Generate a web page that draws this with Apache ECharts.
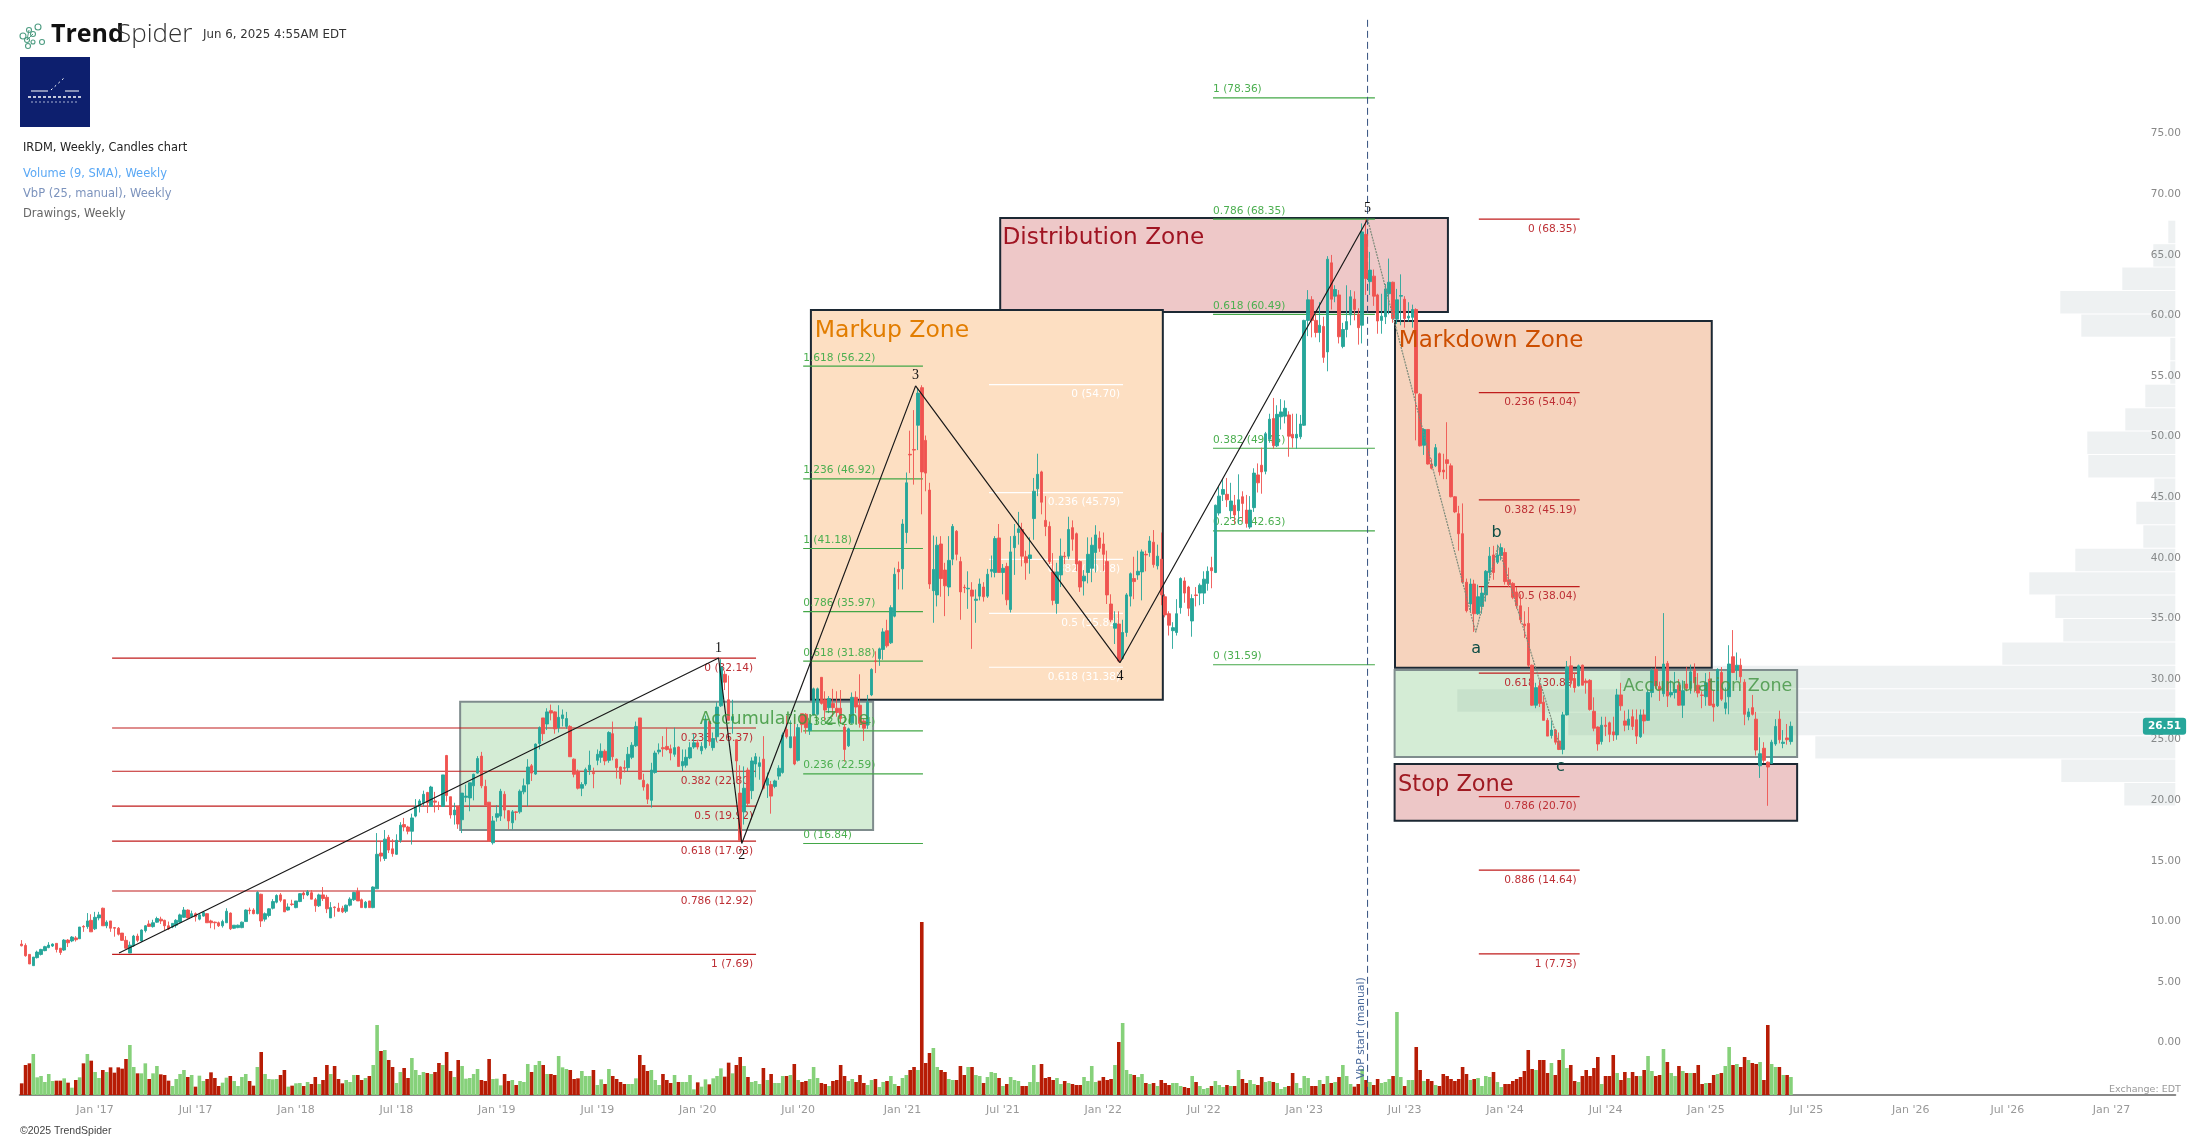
<!DOCTYPE html>
<html><head><meta charset="utf-8">
<style>html,body{margin:0;padding:0;background:#fff}#c{width:2207px;height:1141px}</style>
<script src="https://cdn.jsdelivr.net/npm/echarts@6/dist/echarts.min.js"></script>
</head><body><div id="c"></div>
<script>
// OHLC rows: [open, close, low, high], weekly
const ohlc2016 = [
[8.54,8.40,8.35,8.87],[8.43,7.58,7.50,8.60],[7.69,6.90,6.90,7.69],[6.76,7.47,6.76,7.47],[7.42,7.88,7.35,8.00],[7.69,8.10,7.60,8.15],[8.00,8.33,7.95,8.40],[8.25,8.46,8.20,8.70],[8.38,8.54,8.30,8.60],[8.60,8.10,7.85,8.60],
[8.20,7.85,7.65,8.20],[8.05,8.87,7.98,8.95],[8.87,8.65,8.30,8.95],[8.80,9.12,8.70,9.20],[9.05,8.90,8.75,9.20],[8.98,9.95,8.98,9.95],[10.00,9.95,9.55,10.10],[9.98,10.45,9.80,11.10],[10.50,9.55,9.55,11.00],[9.80,10.75,9.70,11.20],
[10.70,10.95,10.50,11.20],[11.50,10.05,10.05,11.55],[10.05,10.35,9.85,10.50],[10.45,9.85,9.55,10.45],[9.90,9.85,9.15,9.95],[9.85,9.35,9.25,9.95],[9.45,8.85,8.80,9.45],[8.85,8.20,8.15,9.20],[7.80,8.45,7.80,8.75],[8.40,9.20,8.30,9.30],
[9.20,8.85,8.70,9.40],[8.80,9.70,8.70,9.75],[9.65,10.05,9.50,10.10],[10.20,10.00,9.95,10.50],[9.98,10.30,9.90,10.55],[10.35,10.65,10.30,10.80],[10.60,10.45,10.20,10.80],[10.50,10.05,9.70,10.55],[10.05,9.80,9.70,10.40],[9.95,10.25,9.85,10.25],
[10.10,10.50,9.90,10.60],[10.35,10.95,10.30,11.05],[10.75,11.35,10.70,11.60],[11.35,10.70,10.65,11.40],[10.80,11.05,10.70,11.30],[11.05,10.80,10.40,11.15],[10.60,10.95,10.50,11.05],[10.85,11.15,10.80,11.25],[11.05,10.30,10.30,11.10],[10.45,10.30,9.85,10.55],
[10.35,10.30,9.75,10.40],[10.30,10.05,9.95,10.40],[10.05,10.40,9.90,10.55],[10.30,11.25,10.30,11.50],[11.10,9.80,9.70,11.15],[9.85,10.10,9.80,10.10],[9.90,10.10,9.85,10.15],[9.90,10.35,9.85,10.40],[10.40,11.35,10.40,11.40],[11.35,11.30,11.00,11.55],
[11.35,11.05,11.00,11.50],[11.05,12.80,11.00,12.90],[12.65,10.45,9.95,12.70],[10.60,11.05,10.40,11.15],[10.90,11.45,10.75,11.50],[11.50,12.05,11.40,12.25],[12.00,12.55,11.90,12.65],[12.60,12.15,12.00,12.75],[12.20,11.20,11.20,12.20],[11.35,11.60,11.30,11.90],
[11.85,11.80,11.70,12.20],[11.55,12.10,11.50,12.10],[12.05,12.70,12.00,12.75],[12.75,12.60,12.25,12.90],[12.60,12.85,12.50,13.00],[12.78,12.25,12.25,13.00],[12.20,11.70,11.20,12.35],[11.70,12.60,11.60,12.70],[12.60,12.30,12.10,13.25],[12.40,11.45,11.10,12.60],
[10.70,11.55,10.70,12.00],[11.60,11.55,10.80,11.65],[11.50,11.25,11.20,11.95],[11.50,11.20,11.10,11.70],[11.25,11.75,11.10,11.80],[11.75,12.25,11.65,12.40],[12.20,12.80,12.10,12.85],[12.90,12.10,12.10,13.20],[12.20,11.55,11.55,12.30],[11.55,12.00,11.50,12.10],
[12.10,11.55,11.55,12.10],[11.55,13.25,11.50,13.30],[13.10,15.95,13.10,17.70],[16.05,15.80,15.35,17.00],[15.60,17.20,15.40,17.95],[17.35,16.30,16.05,17.55],[16.40,16.00,15.75,17.20],[15.95,17.10,15.90,17.60],[17.10,18.35,16.90,18.60],[18.40,18.20,17.85,18.95],
[18.20,17.85,17.60,18.30],[17.85,18.95,16.75,19.30],[19.10,19.90,19.00,20.50],[19.90,20.35,19.40,20.50],[20.20,20.90,19.90,21.20],[21.05,20.20,19.35,21.10],[19.90,21.50,19.85,21.60],[20.35,20.25,19.40,21.10],[19.95,19.90,19.60,20.30],[19.90,22.50,19.85,22.50],
[24.10,20.80,20.30,24.15],[20.70,19.20,18.90,20.70],[19.20,19.60,18.40,20.20],[19.90,18.45,18.05,19.90],[18.80,21.00,17.70,21.00],[20.65,20.75,20.25,21.70],[20.60,21.85,19.50,21.85],[21.60,22.55,20.40,22.60],[22.65,23.85,22.60,24.05],[24.05,21.60,21.40,24.40],
[21.55,20.00,20.00,22.10],[20.25,17.05,17.00,20.25],[16.90,18.70,16.75,19.10],[19.00,19.30,18.65,20.00],[19.10,21.15,18.70,21.35],[20.90,19.60,18.90,21.15],[19.55,18.70,18.00,19.60],[18.55,19.45,18.00,19.60],[19.45,19.40,18.75,19.50],[19.45,21.15,19.30,21.30],
[21.10,21.60,20.90,22.20],[21.75,23.15,19.90,23.80],[23.25,22.65,22.00,23.40]];
const ohlc2019 = [
[22.57,25.04,22.50,25.10],[25.10,26.40,24.60,26.50],[27.20,25.90,25.30,27.20],[26.70,27.70,26.20,28.00],[27.80,27.60,27.00,28.30],[27.70,26.30,25.90,27.75],[26.40,27.25,26.00,28.25],[27.15,27.45,26.50,27.90],[26.50,27.15,26.30,27.70],[26.50,24.00,24.00,26.60],
[23.80,22.55,22.30,23.85],[22.80,21.40,21.30,22.95],[21.40,21.70,20.75,21.90],[21.75,22.95,21.60,23.10],[22.90,23.30,22.50,24.50],[22.70,22.60,21.40,23.10],[23.70,24.20,23.30,24.60],[23.95,24.45,23.50,25.10],[24.45,23.65,23.30,24.60],[23.70,26.00,23.50,26.10],
[25.90,24.00,23.70,26.90],[23.80,23.10,22.20,23.85],[23.15,22.20,21.70,23.20],[23.10,23.05,22.70,23.70],[23.10,24.20,22.80,24.80],[23.95,24.95,23.80,25.20],[24.90,26.50,24.80,26.90],[27.20,22.15,22.10,27.20],[22.05,21.50,21.20,22.60],[21.70,20.50,20.10,21.80],
[20.40,22.90,19.80,23.50],[22.70,24.30,22.60,24.50],[24.40,24.55,24.20,25.10],[24.75,24.65,24.00,25.70],[24.85,24.60,24.50,26.40],[24.65,24.30,23.70,25.00],[24.20,24.75,24.00,26.40],[24.80,23.20,23.20,24.85],[23.25,23.60,22.80,24.60],[23.30,23.95,23.10,24.60],
[23.90,24.75,23.80,25.20],[24.80,25.15,24.65,25.90],[25.15,24.80,24.60,25.40],[24.50,24.85,24.20,25.20],[24.75,27.00,24.60,27.40],[26.90,25.25,24.90,27.00],[24.75,25.50,24.50,26.00],[25.65,28.10,25.30,28.50],[28.20,31.40,28.10,32.05],[30.80,30.15,29.50,31.10],
[28.70,27.00,27.00,30.70],[27.00,27.30,25.90,28.70],[25.40,23.65,21.90,25.40],[21.00,17.10,17.10,23.30],[19.45,21.40,18.40,23.20],[22.90,20.15,19.90,23.10],[21.20,23.65,20.50,23.95],[23.40,24.00,22.30,24.30],[23.20,23.50,22.10,24.00],[23.80,21.40,21.30,25.70],
[21.65,22.20,20.60,22.70],[21.70,20.75,19.30,22.00],[21.55,22.00,21.40,22.10],[22.40,23.05,22.10,23.30],[22.70,25.80,22.60,26.00],[26.25,25.65,25.50,27.40],[24.75,25.65,24.70,27.00],[25.65,23.40,23.30,27.30],[23.70,26.40,23.60,26.70],[27.55,26.65,26.00,27.55],
[27.50,26.40,25.90,27.60],[26.15,26.75,25.80,27.00],[27.45,29.60,27.40,29.70],[27.50,29.60,27.40,29.70],[30.55,28.40,28.30,30.55],[28.70,27.85,27.00,29.40],[28.05,28.80,27.60,29.00],[28.40,28.05,27.30,29.60],[28.00,27.65,27.30,29.40],[28.00,27.15,26.70,29.50],
[26.45,24.60,23.60,26.70],[24.90,26.30,24.80,26.40],[26.80,28.90,26.70,29.30],[28.90,28.10,27.60,29.40],[28.25,26.75,26.40,30.80],[26.95,26.35,25.30,27.10],[26.60,28.50,26.30,29.10],[29.10,31.20,29.00,31.30],[31.90,31.85,30.90,32.70],[32.10,32.90,31.50,33.00],
[32.85,34.30,32.00,34.60],[34.40,33.15,33.00,35.30],[33.40,36.30,33.30,36.50],[35.60,39.05,35.50,39.60],[39.45,39.25,37.80,40.10],[39.50,43.20,37.80,43.60],[42.50,46.60,41.60,47.45],[48.95,48.90,47.40,50.90],[49.35,49.30,46.45,52.60],[51.35,54.00,49.30,54.40],
[54.45,47.50,44.00,54.65],[50.10,47.40,45.90,50.50],[46.00,38.25,37.85,46.60],[37.70,39.45,35.05,42.25],[37.35,41.45,36.40,42.15],[41.55,38.70,37.20,42.20],[39.40,38.10,35.60,40.00],[38.00,40.20,37.25,42.20],[40.30,43.00,39.80,43.20],[42.60,40.70,40.20,42.70],
[40.10,37.60,35.30,40.50],[37.98,37.95,37.50,38.20],[37.85,37.90,36.20,39.30],[37.75,37.25,32.90,38.40],[36.90,37.00,35.05,37.80],[37.25,38.25,36.90,38.70],[38.00,37.20,36.80,38.40],[37.25,39.05,37.10,39.50],[39.30,39.45,38.80,40.60],[39.20,42.00,38.80,42.20],
[42.05,39.20,39.20,43.20],[39.20,39.55,37.40,39.90],[39.70,36.95,36.50,40.00],[36.15,40.90,35.90,42.20],[41.25,42.20,39.00,43.20],[42.50,42.80,41.50,44.20],[42.75,40.55,39.70,43.30],[40.50,40.00,38.60,41.00],[40.35,40.65,39.10,42.10],[43.65,45.90,41.90,47.00],
[46.10,47.30,45.50,49.00],[47.50,45.00,44.00,47.60],[43.50,43.00,42.20,45.50],[43.00,40.10,39.90,43.40]];
const ohlc2022 = [
[39.25,36.90,36.50,40.80],[36.65,39.25,35.80,40.00],[39.00,40.55,38.00,42.00],[40.55,40.50,39.90,40.90],[40.55,42.75,40.30,43.80],[42.90,41.95,41.00,43.50],[42.40,39.90,39.30,42.50],[40.10,38.00,37.60,40.20],[38.50,38.90,37.30,39.40],[39.20,40.70,38.30,42.10],
[39.55,41.45,38.40,42.10],[40.85,42.30,39.20,43.10],[42.05,41.20,40.90,42.60],[41.55,40.70,39.30,42.50],[40.10,37.35,36.60,41.00],[36.60,35.30,35.10,37.40],[34.60,35.00,33.30,36.00],[34.95,31.90,31.80,36.00],[32.10,34.25,32.00,35.30],[34.25,37.35,33.90,37.50],
[37.25,39.10,36.40,39.20],[38.70,38.45,37.00,40.50],[39.00,39.30,38.60,41.00],[39.25,40.90,36.90,41.10],[40.70,40.65,39.30,41.00],[40.85,41.80,40.50,42.20],[41.70,39.85,39.60,42.70],[39.75,40.55,39.45,41.50],[40.30,37.35,36.50,42.50],[37.20,35.70,35.50,37.40],
[35.80,34.85,34.00,36.00],[34.40,34.65,32.90,35.10],[34.25,35.80,34.00,37.00],[36.30,38.70,35.80,38.80],[38.50,37.50,36.70,38.80],[38.00,36.25,35.60,38.10],[35.20,37.05,33.90,37.40],[37.35,37.30,36.40,38.00],[37.50,38.15,36.50,38.30],[37.50,38.65,36.60,39.30],
[38.30,39.30,37.70,39.70],[39.60,39.35,37.90,40.50],[39.20,44.75,39.15,44.80],[44.10,45.50,43.90,46.30],[45.65,46.05,45.10,46.90],[45.65,45.20,44.60,47.00],[44.30,45.10,43.60,46.60],[44.75,43.95,43.20,45.60],[44.30,45.20,43.20,47.30],[45.45,44.90,43.40,45.90],
[44.35,43.25,42.90,45.60],[42.95,44.35,42.80,45.50],[44.55,47.40,44.20,47.80],[47.25,46.60,45.80,48.20],[48.05,47.50,45.70,49.50],[47.55,50.65,47.30,50.80],[50.20,51.85,49.90,52.30],[51.90,49.65,49.40,53.60],[49.65,52.25,49.55,53.00],[52.05,52.45,51.00,53.50],
[52.10,52.75,51.50,53.40],[52.20,50.45,48.75,52.50],[50.60,50.30,49.50,52.30],[50.30,50.60,49.40,52.30],[50.40,51.45,50.20,52.20],[51.35,60.00,51.30,60.05],[60.00,61.70,58.70,62.50],[61.70,60.00,58.60,62.00],[60.00,59.00,58.60,60.50],[59.00,59.60,58.20,61.50],
[59.50,56.95,56.50,60.30],[57.40,65.05,55.80,65.30],[64.75,61.75,60.90,65.40],[62.00,62.55,61.50,62.90],[62.10,58.65,58.10,62.50],[57.85,59.25,57.70,59.80],[59.25,59.90,58.60,62.90],[60.45,61.95,59.60,62.50],[61.75,60.90,60.00,62.40],[60.50,59.40,58.00,61.00],
[59.60,67.30,58.10,68.00]];
const ohlc2023 = [
[67.10,63.45,62.10,68.35],[63.20,64.15,62.10,65.65],[63.65,62.00,61.20,64.20],[62.10,59.95,58.90,62.20],[60.00,60.35,58.90,62.20],[60.30,62.60,59.70,63.00],[62.20,63.15,60.50,65.10],[63.15,60.15,59.80,63.20],[60.10,61.70,59.70,62.60],[62.00,62.05,59.60,63.80],
[61.75,60.15,59.40,62.00],[60.20,60.35,59.90,61.50],[60.25,60.90,59.40,61.30],[60.90,54.00,50.10,61.00],[53.90,49.65,49.60,54.00],[49.70,51.00,48.90,51.10],[51.00,48.15,48.10,51.00],[48.15,47.80,47.70,48.60],[48.00,49.50,47.90,49.80],[49.00,47.50,47.20,49.10],
[47.65,47.50,46.90,49.00],[48.50,48.20,46.90,51.60],[48.00,45.45,45.40,48.20],[45.45,44.20,44.10,45.50],[44.05,42.40,41.00,44.70],[42.40,38.40,38.30,44.90],[38.40,36.05,35.90,38.70],[36.60,38.25,36.00,38.70],[38.25,35.80,34.30,38.60],[35.80,37.20,35.70,38.20],
[36.40,37.50,35.80,38.00],[37.35,39.30,36.80,39.40],[39.20,40.55,38.70,41.30],[40.65,39.20,38.60,41.40],[40.05,40.65,39.90,41.50],[40.60,41.25,40.20,41.60],[40.85,38.45,38.20,41.20],[38.60,38.20,38.00,39.60],[38.30,37.15,37.00,38.40],[37.60,36.45,36.20,38.00],
[36.45,35.30,35.00,37.40],[34.95,34.80,33.80,36.00],[35.00,31.55,31.40,36.35],[31.55,28.25,28.20,31.60],[28.25,29.70,28.00,30.10],[29.85,28.40,28.10,30.30],[28.50,27.00,27.00,29.00],[27.00,25.70,25.70,27.20],[25.75,26.20,25.50,27.00],[26.20,25.20,25.00,26.30],
[25.30,24.60,24.55,26.00],[24.60,27.45,24.20,27.70],[27.45,31.40,27.40,31.90]];
const ohlc2024 = [
[31.50,30.30,29.70,32.30],[30.45,29.70,29.30,30.90],[29.85,31.50,29.80,31.60],[31.55,29.90,29.90,31.60],[30.25,30.10,29.20,30.45],[30.30,27.90,27.80,30.40],[27.75,26.35,26.10,28.90],[26.45,25.05,24.50,26.50],[25.25,26.60,25.00,27.30],[26.60,26.50,25.70,27.30],
[26.80,25.85,25.20,26.90],[26.05,25.80,25.30,27.30],[25.80,29.10,25.40,29.60],[29.10,28.20,27.80,30.10],[26.95,26.60,26.10,27.80],[26.60,27.10,26.20,27.90],[27.30,26.50,26.20,27.90],[27.05,25.70,25.05,27.90],[25.65,27.45,25.55,27.90],[27.45,26.95,25.90,27.90],
[27.00,29.30,26.95,29.50],[29.30,31.10,28.90,31.30],[31.20,29.85,29.60,32.30],[29.80,29.50,28.60,30.20],[29.20,31.65,28.95,35.85],[31.70,29.00,28.10,31.90],[29.10,29.30,28.90,30.30],[29.30,29.55,28.80,31.00],[29.90,28.25,28.20,30.40],[28.25,29.45,27.20,30.30],
[30.00,29.65,29.40,31.40],[29.65,31.00,29.20,31.60],[31.20,30.10,29.30,31.70],[29.90,29.25,28.90,30.90],[29.10,29.05,28.00,29.40],[28.95,30.10,28.20,30.90],[30.40,28.25,28.20,31.00],[28.35,28.10,26.90,29.50],[28.20,31.20,28.10,31.30],[30.95,28.75,28.60,31.40],
[28.00,28.45,27.50,29.70],[28.95,31.65,27.50,33.20],[32.25,30.95,30.90,34.45],[31.15,31.55,30.30,32.60],[31.55,30.60,30.10,32.10],[30.15,27.50,26.60,30.40],[27.30,27.70,27.00,28.00],[28.05,27.50,27.40,29.10],[27.10,24.55,24.10,27.70],[23.25,24.25,22.25,25.60],
[24.70,23.70,23.50,25.20],[23.55,23.15,19.95,23.60],[23.45,25.20,23.40,25.40],[25.05,26.50,24.90,27.10],[27.10,25.40,25.10,27.80],[25.10,25.20,24.70,26.20],[25.55,25.40,25.00,26.70],[25.25,26.51,25.00,26.90]];
const candles = [...ohlc2016, ...ohlc2019, ...ohlc2022, ...ohlc2023, ...ohlc2024];

// weekly volume, relative units
const volume = [
35,90,95,123,53,57,39,63,42,43, 43,50,37,22,45,53,95,123,103,69, 51,75,69,83,67,83,79,108,150,84, 65,65,95,48,65,87,62,60,43,27,
48,63,75,54,60,25,58,42,48,68, 51,27,37,52,57,42,27,54,63,42, 28,84,129,63,48,47,48,60,75,25, 28,35,36,27,39,33,54,33,45,90,
63,87,48,35,45,39,60,60,45,51, 57,90,210,132,135,105,84,36,69,81, 51,111,75,60,69,66,63,69,96,90, 129,72,54,105,87,49,51,63,78,45,
42,108,48,49,29,63,42,45,30,42, 39,93,69,90,102,90,63,63,60,117, 83,78,75,48,50,72,57,57,75,30, 47,33,78,57,48,39,33,33,33,50,
120,90,72,75,45,30,63,45,36,60, 39,39,39,60,17,38,25,47,32,50, 57,80,55,97,65,90,114,87,54,39, 42,33,81,45,63,36,36,57,57,60,
93,45,39,42,48,84,51,36,33,27, 42,45,90,57,42,48,39,60,36,30, 45,48,24,39,42,57,33,27,51,60, 75,84,75,519,96,126,141,84,75,69,
48,45,45,87,60,84,84,60,57,36, 54,69,66,51,27,33,54,45,42,27, 27,39,90,39,93,51,54,45,51,33, 42,36,33,30,30,54,42,87,39,
43,54,45,48,90,159,216,75,63,60, 54,63,36,33,36,27,45,36,30,36, 36,27,24,21,57,39,27,18,21,27, 42,30,24,30,27,27,75,48,36,45,
33,30,54,39,42,39,36,18,24,27, 66,36,21,57,51,27,27,45,33,57, 36,39,54,90,57,33,25,33,78,45, 39,30,48,36,39,48,57,249,54,27,
45,45,144,75,42,48,42,30,27,63, 57,48,42,48,84,63,45,48,51,27, 57,54,69,39,24,33,33,42,48,54, 72,135,78,75,105,105,66,96,60,105,
138,81,90,42,39,57,75,57,81,114, 33,57,57,120,66,45,69,51,69,57,
57,75,117,72,57,60,138,99,66,57, 87,72,66,66,66,90,33,36,36,60, 63,66,87,144,90,93,84,114,105,96, 93,99,45,210,93,84,84,60,60,54];

const tickWeeks  = [19,45,71,97,123,149,175,201,228,254,280,306,332,358,384,410,436,462,489,514,541];
const tickLabels = ["Jan '17","Jul '17","Jan '18","Jul '18","Jan '19","Jul '19","Jan '20","Jul '20","Jan '21","Jul '21","Jan '22","Jul '22","Jan '23","Jul '23","Jan '24","Jul '24","Jan '25","Jul '25","Jan '26","Jul '26","Jan '27"];
const totalWeeks = 558;
const priceTicks = {min:-5, max:85, step:5};

// Volume by price: relative volume per bin, bottom bin first (25 bins)
const vbpVolume = [51,114,360,607,718,555,173,112,120,146,100,32,39,21,87,88,50,30,5,5,94,115,53,22,7];
const vbpLow = 19.94, vbpStep = 1.933;

// zones: [name, weekFrom, weekTo, priceLow, priceHigh]
const zones = [
["accum",113.5,220.4,17.95,28.54],
["distribution",253.3,369.2,60.69,68.45],
["markup",204.3,295.4,28.7,60.86],
["markdown",355.5,437.5,31.34,59.95],
["accum",355.4,459.6,23.98,31.15],
["stop",355.4,459.6,18.72,23.4]];
const zoneStyle = {
 accum:{fill:'rgba(76,175,80,0.24)',stroke:'#7f8c8d'},
 distribution:{fill:'#eec8c8',stroke:'#1c2833'},
 markup:{fill:'#fddfc2',stroke:'#1c2833'},
 markdown:{fill:'#f6d3bd',stroke:'#1c2833'},
 stop:{fill:'#edc7c7',stroke:'#1c2833'}};
// zone titles: [text, week (left edge), price, colour, font size]
const zoneTitles = [
["Accumulation Zone",175.5,27.08,'rgba(60,150,60,0.85)',17.5],
["Distribution Zone",253.9,66.78,'#a01422',23.2],
["Markup Zone",205.3,59.15,'#e27d00',23.5],
["Markdown Zone",356.5,58.28,'#cc4e00',23],
["Accumulation Zone",414.5,29.78,'rgba(70,150,70,0.85)',17.5],
["Stop Zone",356.3,21.68,'#a01a22',22.5]];

// Fibonacci sets: levels are [ratio, price]
const fibRed1 = [[0,32.14],[0.236,26.37],[0.382,22.80],[0.5,19.92],[0.618,17.03],[0.786,12.92],[1,7.69]];
const fibGreen1 = [[1.618,56.22],[1.236,46.92],[1,41.18],[0.786,35.97],[0.618,31.88],[0.382,26.14],[0.236,22.59],[0,16.84]];
const fibWhite = [[0,54.70],[0.236,45.79],[0.382,40.28],[0.5,35.82],[0.618,31.38]];
const fibGreen2 = [[1,78.36],[0.786,68.35],[0.618,60.49],[0.382,49.45],[0.236,42.63],[0,31.59]];
const fibRed2 = [[0,68.35],[0.236,54.04],[0.382,45.19],[0.5,38.04],[0.618,30.89],[0.786,20.70],[0.886,14.64],[1,7.73]];
const fibSets = [
 {levels:fibRed1,from:23.4,to:190.1,line:'#c01c1c',text:'#bd2f35',side:'below'},
 {levels:fibGreen1,from:202.3,to:233.3,line:'#43a747',text:'#4caf50',side:'above'},
 {levels:fibWhite,from:250.4,to:285.1,line:'#ffffff',text:'#ffffff',side:'below'},
 {levels:fibGreen2,from:308.4,to:350.3,line:'#43a747',text:'#4caf50',side:'above'},
 {levels:fibRed2,from:377.2,to:403.3,line:'#c01c1c',text:'#bd2f35',side:'below'}];

// Elliott wave pivots [week, price]
const waveImpulse = [[25.2,7.8],[180.4,32.14],[186.4,16.84],[231.4,54.6],[284.3,31.76],[348.4,68.35]];
const waveCorrection = [[348.4,68.35],[376.4,34.27],[382.2,41.4],[398.4,24.6]];
// wave labels [text, week, price]
const waveLabelsNum = [["1",180.4,32.97],["2",186.4,15.9],["3",231.4,55.5],["4",284.3,30.66],["5",348.4,69.27]];
const waveLabelsAbc = [["a",376.5,32.9],["b",381.8,42.5],["c",398.3,23.18]];
const vbpStartWeek = 348.4;
const lastPrice = 26.51;

const categories = [];
for(let i=0;i<totalWeeks;i++){const d=new Date(Date.UTC(2016,7,22)+i*7*864e5);categories.push(d.toISOString().slice(0,10));}
const tickSet = new Map(tickWeeks.map((w,i)=>[w,tickLabels[i]]));
const BAND = 3.863, LEFT = 19.77, WIDTH = totalWeeks*BAND;
const PX = 12.12, ZEROY = 1047.6;
const priceGrid = {left:LEFT,width:WIDTH,top:ZEROY-priceTicks.max*PX,height:(priceTicks.max-priceTicks.min)*PX};
const volGrid = {left:LEFT,width:WIDTH,top:922,height:173};
const MONO = 'DejaVu Sans';

// flatten drawings
const fibRows = [];
fibSets.forEach(s=>s.levels.forEach(l=>fibRows.push({s,l})));

function zoneItem(p,api){
  const z=zones[p.dataIndex],st=zoneStyle[z[0]];
  const a=api.coord([z[1],z[4]]),b=api.coord([z[2],z[3]]);
  return {type:'rect',shape:{x:a[0],y:a[1],width:b[0]-a[0],height:b[1]-a[1]},style:{fill:st.fill,stroke:st.stroke,lineWidth:2}};
}
function fibItem(p,api){
  const r=fibRows[p.dataIndex],s=r.s,a=api.coord([s.from,r.l[1]]),b=api.coord([s.to,r.l[1]]);
  const txt=`${r.l[0]} (${r.l[1].toFixed(2)})`;
  const above=s.side==='above';
  return {type:'group',children:[
   {type:'line',shape:{x1:a[0],y1:a[1],x2:b[0],y2:b[1]},style:{stroke:s.line,lineWidth:1.2}},
   {type:'text',style:{text:txt,x:above?a[0]:b[0]-3,y:a[1]+(above?-8.3:10),fill:s.text,font:`10.6px ${MONO}`,align:above?'left':'right',verticalAlign:'middle'}}
  ]};
}
function titleItem(p,api){
  const t=zoneTitles[p.dataIndex],c=api.coord([t[1],t[2]]);
  return {type:'text',style:{text:t[0],x:c[0],y:c[1],fill:t[3],font:`${t[4]}px ${MONO}`,align:'left',verticalAlign:'middle'}};
}
function waveNumItem(p,api){
  const t=waveLabelsNum[p.dataIndex],c=api.coord([t[1],t[2]]);
  return {type:'text',style:{text:t[0],x:c[0],y:c[1],fill:'#111',font:`14px "Liberation Serif"`,align:'center',verticalAlign:'middle'}};
}
function waveAbcItem(p,api){
  const t=waveLabelsAbc[p.dataIndex],c=api.coord([t[1],t[2]]);
  return {type:'text',style:{text:t[0],x:c[0],y:c[1],fill:'#0e4d45',font:`16px ${MONO}`,align:'center',verticalAlign:'middle'}};
}
function vbpItem(p,api){
  const i=p.dataIndex,lo=vbpLow+i*vbpStep,hi=lo+vbpStep;
  const a=api.coord([vbpVolume[i],hi]),c=api.coord([0,lo]);
  return {type:'rect',shape:{x:a[0],y:a[1]+0.5,width:c[0]-a[0],height:c[1]-a[1]-1},style:{fill:'rgba(120,144,156,0.13)'}};
}
function vbpLineItem(p,api){
  const a=api.coord([vbpStartWeek,84.8]),b=api.coord([vbpStartWeek,-3.9]);
  const t=api.coord([vbpStartWeek-1.7,1.6]);
  return {type:'group',children:[
   {type:'line',shape:{x1:a[0],y1:a[1],x2:b[0],y2:b[1]},style:{stroke:'#34507f',lineWidth:1,lineDash:[7,4]}},
   {type:'text',x:t[0],y:t[1],rotation:Math.PI/2,style:{text:'VbP start (manual)',x:0,y:0,fill:'#4a6a9c',font:`10.8px ${MONO}`,align:'center',verticalAlign:'middle'}}
  ]};
}
function tagItem(p,api){
  const c=api.coord([554.7,lastPrice]);
  return {type:'text',style:{text:lastPrice.toFixed(2),x:c[0],y:c[1],fill:'#fff',font:`bold 10.5px ${MONO}`,align:'center',verticalAlign:'middle',backgroundColor:'#26a69a',borderRadius:3,padding:[3,5]}};
}
const cust=(name,data,renderItem,z,extra)=>Object.assign({name,type:'custom',xAxisIndex:1,yAxisIndex:0,coordinateSystem:'cartesian2d',data,renderItem,z,clip:false,silent:true,animation:false},extra||{});

const upC='#26a69a',dnC='#ef5350',volUp='#86d17a',volDn='#b71c05';
const logoDots=[[23,36,3],[29,30,2.5],[27,40,2.5],[38,27,3],[33,34,2.5],[42,42,2.5],[28,46,2.5],[33,42,2]];

const option={
 animation:false,backgroundColor:'#fff',
 grid:[priceGrid,volGrid],
 xAxis:[
  {type:'category',gridIndex:0,data:categories,show:false},
  {type:'value',gridIndex:0,min:-0.5,max:totalWeeks-0.5,show:false},
  {type:'value',gridIndex:0,min:0,max:WIDTH,inverse:true,show:false},
  {type:'category',gridIndex:1,data:categories,
   axisLine:{lineStyle:{color:'#8a8a8a',width:2}},
   axisTick:{alignWithLabel:true,length:9,interval:(i)=>tickSet.has(i),lineStyle:{color:'#8a8a8a'}},
   axisLabel:{interval:(i)=>tickSet.has(i),formatter:(v,i)=>tickSet.get(i)||'',color:'#999',fontFamily:MONO,fontSize:11,margin:10,hideOverlap:false}}
 ],
 yAxis:[
  {type:'value',gridIndex:0,position:'right',min:priceTicks.min,max:priceTicks.max,interval:priceTicks.step,
   splitLine:{show:false},axisLine:{show:false},axisTick:{show:false},
   axisLabel:{margin:5.6,align:'right',verticalAlign:'bottom',color:'#888',fontFamily:MONO,fontSize:10.5,lineHeight:10,
     formatter:v=>(v<0||v>75)?'':v.toFixed(2)}},
  {type:'value',gridIndex:1,min:0,max:519,show:false}
 ],
 series:[
  cust('vbp',vbpVolume.map((v,i)=>[v,vbpLow+i*vbpStep]),vbpItem,1,{xAxisIndex:2}),
  cust('zones',zones.map(z=>[z[1],z[3]]),zoneItem,2),
  cust('fibs',fibRows.map(r=>[r.s.from,r.l[1]]),fibItem,3),
  cust('vbpStart',[[vbpStartWeek,0]],vbpLineItem,3),
  {name:'price',type:'candlestick',xAxisIndex:0,yAxisIndex:0,data:candles,barWidth:3,z:4,silent:true,animation:false,clip:false,
   itemStyle:{color:upC,color0:dnC,borderColor:upC,borderColor0:dnC,borderWidth:0.9}},
  {name:'volume',type:'bar',xAxisIndex:3,yAxisIndex:1,barWidth:3.6,z:2,silent:true,animation:false,
   data:volume.map((v,i)=>({value:v,itemStyle:{color:candles[i]&&candles[i][1]>=candles[i][0]?volUp:volDn}}))},
  {name:'impulse',type:'line',xAxisIndex:1,yAxisIndex:0,data:waveImpulse,symbol:'none',z:5,silent:true,animation:false,lineStyle:{color:'#1a1a1a',width:1.2}},
  {name:'correction',type:'line',xAxisIndex:1,yAxisIndex:0,data:waveCorrection,symbol:'none',z:5,silent:true,animation:false,lineStyle:{color:'#7b8a7a',width:1.2,type:[2,1]}},
  cust('titles',zoneTitles.map(t=>[t[1],t[2]]),titleItem,6),
  cust('waveNums',waveLabelsNum.map(t=>[t[1],t[2]]),waveNumItem,6),
  cust('waveAbc',waveLabelsAbc.map(t=>[t[1],t[2]]),waveAbcItem,6),
  cust('tag',[[554.7,lastPrice]],tagItem,7)
 ],
 graphic:{elements:[
  ...logoDots.map(d=>({type:'circle',shape:{cx:d[0],cy:d[1],r:d[2]},style:{fill:'none',stroke:'#4f9d83',lineWidth:1.1},silent:true})),
  {type:'line',shape:{x1:27,y1:40,x2:29,y2:30},style:{stroke:'#4f9d83',lineWidth:1},silent:true},
  {type:'line',shape:{x1:27,y1:40,x2:33,y2:34},style:{stroke:'#4f9d83',lineWidth:1},silent:true},
  {type:'text',x:51,y:35,style:{text:'Trend',fill:'#111',font:'bold 25px "Open Sans"',verticalAlign:'middle'},silent:true},
  {type:'text',x:117,y:35,style:{text:'Spider',fill:'#333',font:'300 26px "Open Sans"',verticalAlign:'middle'},silent:true},
  {type:'text',x:203,y:35,style:{text:'Jun 6, 2025 4:55AM EDT',fill:'#333',font:`11.8px ${MONO}`,verticalAlign:'middle'},silent:true},
  {type:'rect',shape:{x:20,y:57,width:70,height:70},style:{fill:'#0d1f6e'},silent:true},
  {type:'line',shape:{x1:31,y1:91,x2:48,y2:91},style:{stroke:'#fff',lineWidth:1},silent:true},
  {type:'line',shape:{x1:65,y1:91,x2:79,y2:91},style:{stroke:'#fff',lineWidth:1},silent:true},
  {type:'line',shape:{x1:51,y1:90,x2:64,y2:78},style:{stroke:'#fff',lineWidth:1,lineDash:[2,3]},silent:true},
  {type:'line',shape:{x1:28,y1:97,x2:82,y2:97},style:{stroke:'#fff',lineWidth:1.6,lineDash:[3,2]},silent:true},
  {type:'line',shape:{x1:31,y1:102,x2:78,y2:102},style:{stroke:'#cfd6ea',lineWidth:0.8,lineDash:[2,2]},silent:true},
  {type:'text',x:23,y:148,style:{text:'IRDM, Weekly, Candles chart',fill:'#222',font:`11.4px ${MONO}`,verticalAlign:'middle'},silent:true},
  {type:'text',x:23,y:174,style:{text:'Volume (9, SMA), Weekly',fill:'#5aa8f5',font:`11.5px ${MONO}`,verticalAlign:'middle'},silent:true},
  {type:'text',x:23,y:194,style:{text:'VbP (25, manual), Weekly',fill:'#7c93bd',font:`11.5px ${MONO}`,verticalAlign:'middle'},silent:true},
  {type:'text',x:23,y:214,style:{text:'Drawings, Weekly',fill:'#666',font:`11.5px ${MONO}`,verticalAlign:'middle'},silent:true},
  {type:'text',x:20,y:1131,style:{text:'©2025 TrendSpider',fill:'#444',font:'10.5px "Liberation Sans"',verticalAlign:'middle'},silent:true},
  {type:'text',x:2109,y:1089.5,style:{text:'Exchange: EDT',fill:'#999',font:`9.5px ${MONO}`,verticalAlign:'middle'},silent:true}
 ]}
};
const chart=echarts.init(document.getElementById('c'),null,{renderer:'canvas',width:2207,height:1141});
chart.setOption(option);
</script></body></html>
